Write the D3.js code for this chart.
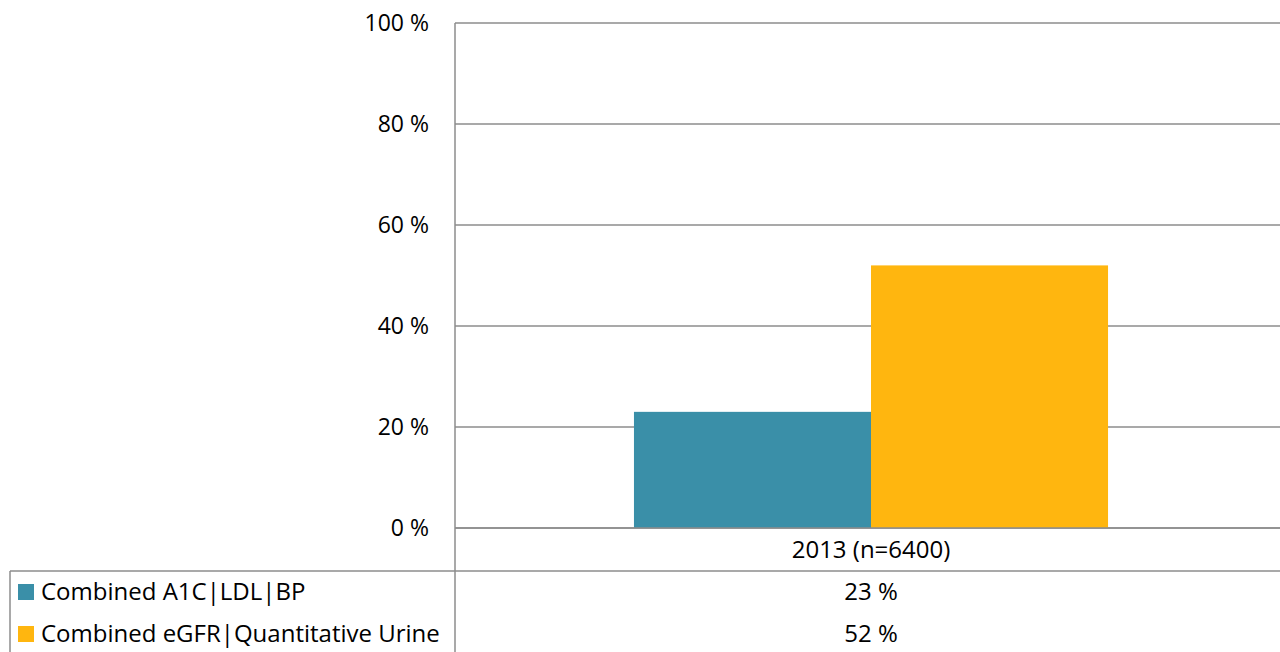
<!DOCTYPE html>
<html><head><meta charset="utf-8">
<script src="https://cdn.jsdelivr.net/npm/d3@7"></script>
<style>body{margin:0;background:#fff;}svg{display:block;font-family:"Open Sans",Lato,sans-serif;}</style>
</head><body><svg id="c" width="1280" height="652"></svg>
<script>
const categories = ["2013 (n=6400)"];
const seriesNames = ["Combined A1C|LDL|BP", "Combined eGFR|Quantitative Urine"];
const seriesValues = [[23], [52]];
const seriesColors = ["#3A8FA8", "#FFB60F"];
const yTicks = [0, 20, 40, 60, 80, 100];

(function(){
const svg = d3.select("#c");
const pLeft = 455, pRight = 1287, pTop = 23, pBottom = 528;
const tableTop = 571, rowH = 42;
const fs = 24, fsTick = 23;

const y = d3.scaleLinear().domain([0, 100]).range([pBottom, pTop]);
const x0 = d3.scaleBand().domain(categories).range([pLeft, pRight]).paddingInner(0).paddingOuter(0);
const x1 = d3.scaleBand().domain(seriesNames).range([0, x0.bandwidth()]).paddingInner(0).paddingOuter(0.755);

svg.append("g").selectAll("line").data(yTicks).join("line")
  .attr("x1", pLeft).attr("x2", 1280).attr("y1", d => y(d)).attr("y2", d => y(d))
  .attr("stroke", "#8c8c8c").attr("stroke-width", 1.5);

svg.append("g").selectAll("text").data(yTicks).join("text")
  .attr("x", 429).attr("y", d => y(d)).attr("dy", "0.35em").attr("text-anchor", "end")
  .attr("font-size", fsTick).attr("fill", "#000").text(d => d + " %");

categories.forEach((c, ci) => {
  seriesNames.forEach((s, si) => {
    const v = seriesValues[si][ci];
    svg.append("rect")
      .attr("x", x0(c) + x1(s)).attr("width", x1.bandwidth())
      .attr("y", y(v)).attr("height", y(0) - y(v))
      .attr("fill", seriesColors[si]);
  });
});

svg.append("line").attr("x1", pLeft).attr("x2", 1280).attr("y1", y(0)).attr("y2", y(0))
  .attr("stroke", "#8c8c8c").attr("stroke-width", 1.5);

svg.append("g").selectAll("text").data(categories).join("text")
  .attr("x", d => x0(d) + x0.bandwidth() / 2).attr("y", (pBottom + tableTop) / 2).attr("dy", "0.35em")
  .attr("text-anchor", "middle").attr("font-size", fs).text(d => d);

svg.append("line").attr("x1", 10).attr("x2", 1280).attr("y1", tableTop).attr("y2", tableTop)
  .attr("stroke", "#8c8c8c").attr("stroke-width", 1.5);
svg.append("line").attr("x1", pLeft).attr("x2", pLeft).attr("y1", pTop).attr("y2", 652)
  .attr("stroke", "#8c8c8c").attr("stroke-width", 1.5);
svg.append("line").attr("x1", 10).attr("x2", 10).attr("y1", tableTop).attr("y2", 652)
  .attr("stroke", "#8c8c8c").attr("stroke-width", 1.5);

seriesNames.forEach((s, si) => {
  const cy = tableTop + rowH * si + rowH / 2;
  svg.append("rect").attr("x", 18).attr("y", cy - 8).attr("width", 16).attr("height", 16).attr("fill", seriesColors[si]);
  svg.append("text").attr("x", 41).attr("y", cy).attr("dy", "0.35em").attr("font-size", fs).text(s);
  categories.forEach((c, ci) => {
    svg.append("text").attr("x", x0(c) + x0.bandwidth() / 2).attr("y", cy).attr("dy", "0.35em")
      .attr("text-anchor", "middle").attr("font-size", fs).text(seriesValues[si][ci] + " %");
  });
});
})();
</script></body></html>
